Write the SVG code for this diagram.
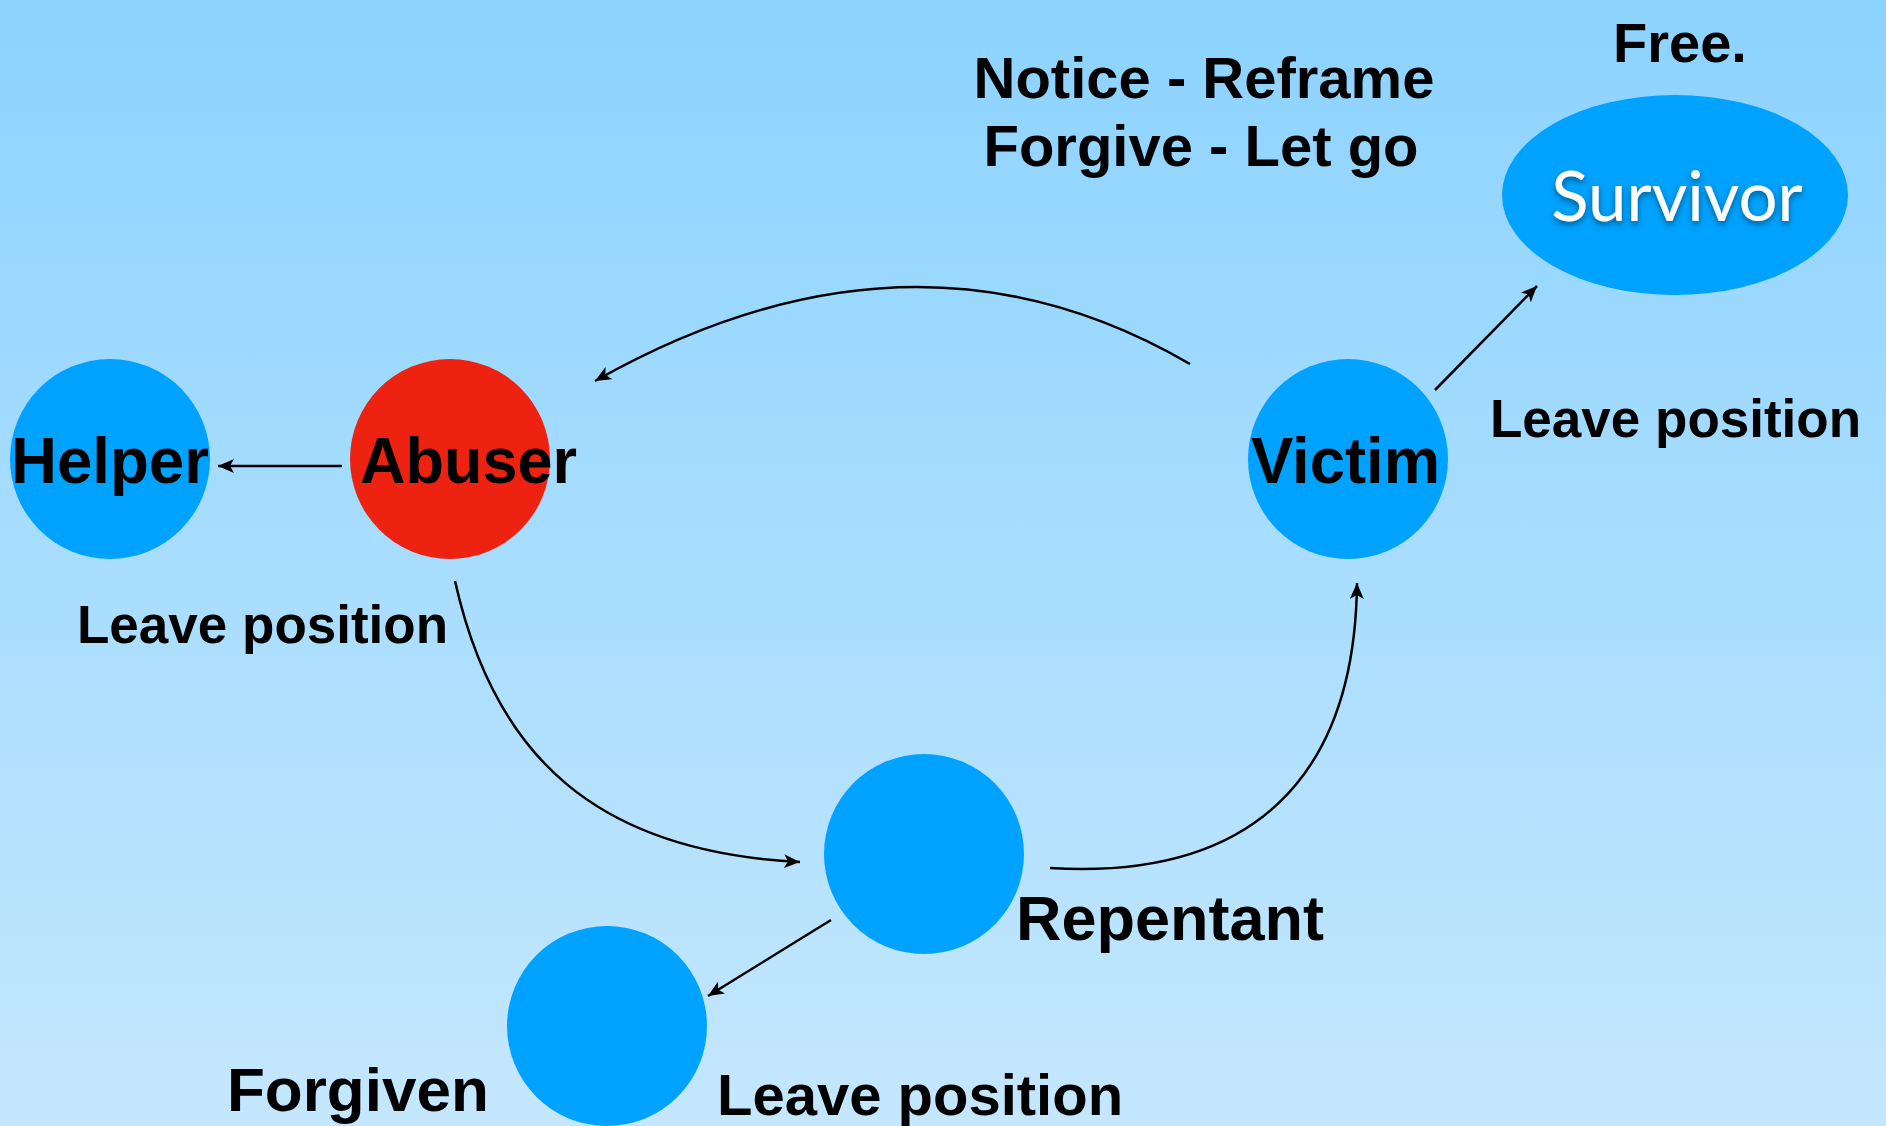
<svg xmlns="http://www.w3.org/2000/svg" width="1886" height="1126" viewBox="0 0 1886 1126">
  <defs>
    <linearGradient id="bg" x1="0" y1="0" x2="0" y2="1">
      <stop offset="0" stop-color="#8CD3FE"/>
      <stop offset="0.5" stop-color="#A8DDFE"/>
      <stop offset="1" stop-color="#C4E7FD"/>
    </linearGradient>
    <marker id="arrow" markerUnits="userSpaceOnUse" markerWidth="18" markerHeight="14" refX="16" refY="7" orient="auto">
      <path d="M0,0 L16,7 L0,14 L4,7 Z" fill="#000"/>
    </marker>
    <filter id="shadow" x="-10%" y="-30%" width="120%" height="160%">
      <feDropShadow dx="0" dy="3" stdDeviation="3" flood-color="#000" flood-opacity="0.45"/>
    </filter>
    <style>
      .node { fill: #00A2FF; }
      .bad { fill: #EE2211; }
      .lbl { font-family: "Liberation Sans", Arial, sans-serif; font-weight: bold; fill: #000; }
      .edge { fill: none; stroke: #000; stroke-width: 2.5; marker-end: url(#arrow); }
      .surv { font-family: Lato, "Open Sans", sans-serif; fill: #fff; }
    </style>
  </defs>

  <rect width="1886" height="1126" fill="url(#bg)"/>

  <!-- headings -->
  <text class="lbl" x="1204" y="98" font-size="58" text-anchor="middle">Notice - Reframe</text>
  <text class="lbl" x="1201" y="166" font-size="58" text-anchor="middle">Forgive - Let go</text>
  <text class="lbl" x="1613" y="62" font-size="56">Free.</text>

  <g id="helper">
    <circle class="node" cx="110" cy="459" r="100"/>
    <text class="lbl" x="11" y="483" font-size="64" textLength="198" lengthAdjust="spacingAndGlyphs">Helper</text>
    <text class="lbl" x="77" y="643" font-size="53">Leave position</text>
  </g>

  <g id="abuser">
    <circle class="bad" cx="450" cy="459" r="100"/>
    <text class="lbl" x="360" y="483" font-size="64" textLength="217" lengthAdjust="spacingAndGlyphs">Abuser</text>
  </g>

  <g id="victim">
    <circle class="node" cx="1348" cy="459" r="100"/>
    <text class="lbl" x="1251" y="483" font-size="64" textLength="189" lengthAdjust="spacingAndGlyphs">Victim</text>
    <text class="lbl" x="1490" y="437" font-size="53">Leave position</text>
  </g>

  <g id="survivor">
    <ellipse class="node" cx="1675" cy="195" rx="173" ry="100"/>
    <text class="surv" x="1677" y="221" font-size="69" text-anchor="middle" filter="url(#shadow)">Survivor</text>
  </g>

  <g id="repentant">
    <circle class="node" cx="924" cy="854" r="100"/>
    <text class="lbl" x="1016" y="940" font-size="63">Repentant</text>
  </g>

  <g id="forgiven">
    <circle class="node" cx="607" cy="1026" r="100"/>
    <text class="lbl" x="227" y="1111" font-size="62">Forgiven</text>
    <text class="lbl" x="717" y="1115" font-size="58">Leave position</text>
  </g>

  <g id="connectors">
    <line class="edge" x1="342" y1="466" x2="218" y2="466"/>
    <path class="edge" d="M1190,364 Q912,202 595,381"/>
    <path class="edge" d="M455,581 C495,760 600,852 800,862"/>
    <path class="edge" d="M1050,868 C1250,880 1355,780 1357,583"/>
    <line class="edge" x1="1435" y1="390" x2="1537" y2="286"/>
    <line class="edge" x1="831" y1="920" x2="708" y2="996"/>
  </g>
</svg>
